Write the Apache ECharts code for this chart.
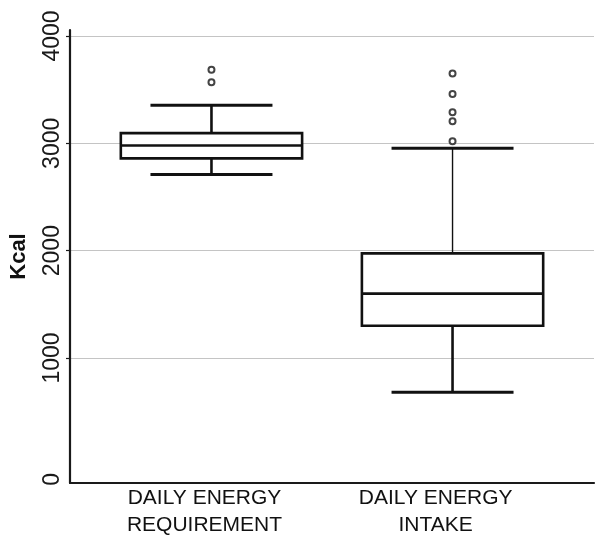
<!DOCTYPE html>
<html>
<head>
<meta charset="utf-8">
<script src="https://cdn.jsdelivr.net/npm/echarts@6/dist/echarts.min.js"></script>
<style>
html,body{margin:0;padding:0;background:#fff;}
#chart{width:604px;height:553px;}
</style>
</head>
<body>
<div id="chart"></div>
<script>
// ---- data ----
const categories = ['DAILY ENERGY\nREQUIREMENT', 'DAILY ENERGY\nINTAKE'];
const lowerWhisker = [2710, 680];
const q1 = [2860, 1300];
const median = [2980, 1600];
const q3 = [3095, 1975];
const upperWhisker = [3355, 2955];
const outliersRequirement = [3570, 3685];
const outliersIntake = [3020, 3205, 3290, 3460, 3650];
const yTickValues = [0, 1000, 2000, 3000, 4000];
const yGridValues = [1000, 2000, 3000, 4000];
const yAxisName = 'Kcal';

// ---- build series data ----
const boxData = categories.map((c, i) => [i + 1, lowerWhisker[i], q1[i], median[i], q3[i], upperWhisker[i]]);
const outlierData = []
  .concat(outliersRequirement.map(v => [1, v]))
  .concat(outliersIntake.map(v => [2, v]));

// style constants
const BOX_HALF = 0.376;
const CAP_HALF = 0.253;
const stemWidths = [[2.6, 2.6], [2.6, 1.4]]; // [lower, upper] per box
const INK = '#111';

const chart = echarts.init(document.getElementById('chart'), null, {renderer: 'canvas'});

function renderBox(params, api) {
  const x = api.value(0);
  const lo = api.value(1), a = api.value(2), m = api.value(3), b = api.value(4), hi = api.value(5);
  const tl = api.coord([x - BOX_HALF, b]);
  const br = api.coord([x + BOX_HALF, a]);
  const pMedL = api.coord([x - BOX_HALF, m]);
  const pMedR = api.coord([x + BOX_HALF, m]);
  const pLo = api.coord([x, lo]);
  const pHi = api.coord([x, hi]);
  const pA = api.coord([x, a]);
  const pB = api.coord([x, b]);
  const capLoL = api.coord([x - CAP_HALF, lo]);
  const capLoR = api.coord([x + CAP_HALF, lo]);
  const capHiL = api.coord([x - CAP_HALF, hi]);
  const capHiR = api.coord([x + CAP_HALF, hi]);
  const sw = stemWidths[params.dataIndex];
  const line = (p1, p2, w) => ({
    type: 'line',
    shape: {x1: p1[0], y1: p1[1], x2: p2[0], y2: p2[1]},
    style: {stroke: INK, lineWidth: w, lineCap: 'butt'}
  });
  return {
    type: 'group',
    children: [
      line(pLo, pA, sw[0]),
      line(pB, pHi, sw[1]),
      line(capLoL, capLoR, 3),
      line(capHiL, capHiR, 3),
      {
        type: 'rect',
        shape: {x: tl[0], y: tl[1], width: br[0] - tl[0], height: br[1] - tl[1]},
        style: {fill: '#fff', stroke: INK, lineWidth: 2.6}
      },
      line(pMedL, pMedR, 2.6)
    ]
  };
}

const option = {
  animation: false,
  backgroundColor: '#fff',
  grid: {left: 68, right: 10, top: 30, bottom: 70, containLabel: false},
  xAxis: [
    {
      type: 'value', min: 0.4132, max: 2.5868,
      axisLine: {show: true, onZero: false, lineStyle: {color: '#1a1a1a', width: 2.2}},
      axisTick: {show: false}, axisLabel: {show: false}, splitLine: {show: false}
    },
    {
      type: 'value', min: 0.418, max: 2.685, position: 'bottom',
      axisLine: {show: false, onZero: false}, axisTick: {show: false}, splitLine: {show: false},
      axisLabel: {
        show: true, customValues: [1, 2], margin: 2,
        formatter: v => categories[Math.round(v) - 1] || '',
        fontFamily: 'Liberation Sans, Arial, sans-serif', fontSize: 21,
        lineHeight: 27, color: '#111', align: 'center'
      }
    }
  ],
  yAxis: {
    type: 'value', min: -165, max: 4056,
    name: yAxisName, nameLocation: 'middle', nameRotate: 90, nameGap: 40,
    nameTextStyle: {fontFamily: 'Liberation Sans, Arial, sans-serif', fontSize: 22, fontWeight: 'bold', color: '#111'},
    axisLine: {show: true, onZero: false, lineStyle: {color: '#1a1a1a', width: 2.2}},
    axisTick: {show: true, customValues: yGridValues, length: 4, lineStyle: {color: '#1a1a1a', width: 1.2}},
    axisLabel: {
      show: true, customValues: yTickValues, rotate: 90, margin: 6,
      fontFamily: 'Liberation Sans, Arial, sans-serif', fontSize: 23, color: '#1a1a1a',
      formatter: v => v === 0 ? '{z|0}' : String(v),
      rich: {z: {fontFamily: 'Liberation Sans, Arial, sans-serif', fontSize: 23, color: '#1a1a1a', padding: [0, 28, 0, 0]}}
    },
    splitLine: {show: true, lineStyle: {color: '#c4c4c4', width: 1.2}}
  },
  series: [
    {
      type: 'custom', xAxisIndex: 0, yAxisIndex: 0,
      renderItem: renderBox,
      encode: {x: 0, y: [1, 2, 3, 4, 5]},
      data: boxData, z: 3, clip: false
    },
    {
      type: 'scatter', xAxisIndex: 0, yAxisIndex: 0,
      symbol: 'emptyCircle', symbolSize: 6,
      itemStyle: {color: '#444', borderColor: '#444', borderWidth: 1.6, opacity: 1},
      data: outlierData, z: 4
    }
  ]
};
chart.setOption(option);
</script>
</body>
</html>
